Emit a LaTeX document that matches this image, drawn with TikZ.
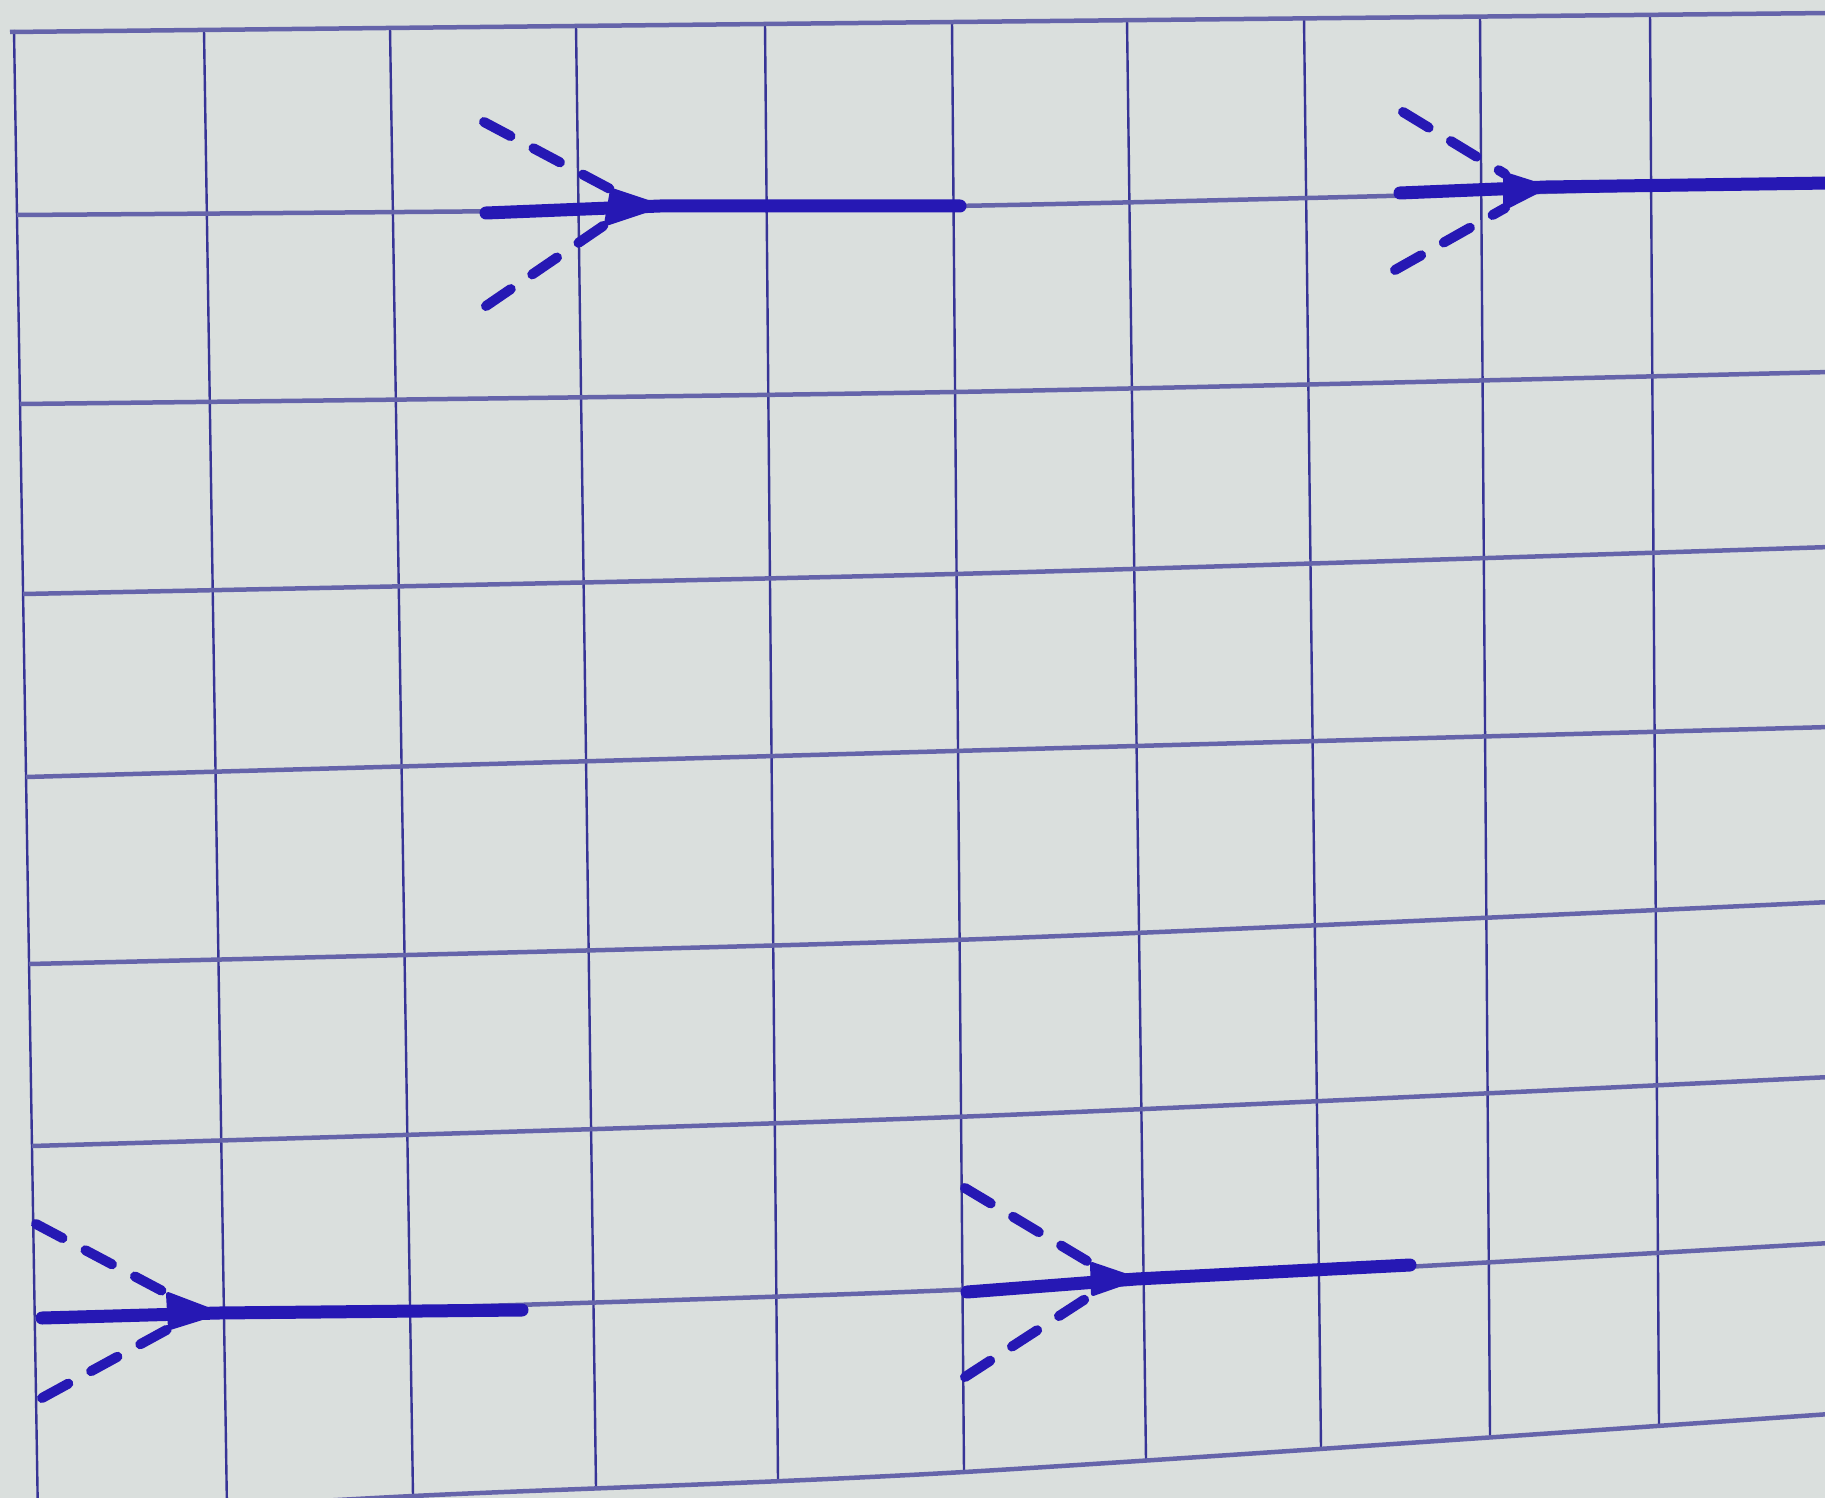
\documentclass[tikz,border=0pt]{standalone}
\usetikzlibrary{calc}
\definecolor{paper}{RGB}{218,223,221}
\definecolor{gridc}{RGB}{55,52,150}
\definecolor{ink}{RGB}{38,24,180}
\begin{document}
\begin{tikzpicture}[x=1pt,y=-1pt,
  vline/.style={gridc,line width=2.4pt},
  hline/.style={gridc!72!paper,line width=4.5pt},
  shaft/.style={ink,line width=13pt,line cap=round},
  rays/.style={ink,line width=10pt,line cap=round,dash pattern=on 30pt off 26pt},
  headfill/.style={fill=ink,draw=ink,line width=4pt,line join=round}]
\fill[paper] (0,0) rectangle (1825,1498);
\useasboundingbox (0,0) rectangle (1825,1498);
\begin{scope}
\clip (0,0) rectangle (1825,1498);
% vertical grid lines
\draw[vline] (14,30) -- (38,1520);
\draw[vline] (204,30) -- (227,1510);
\draw[vline] (390,28) -- (413,1496);
\draw[vline] (576,26) -- (596,1488);
\draw[vline] (765,24) -- (778,1480);
\draw[vline] (952,22) -- (964,1472);
\draw[vline] (1127,20) -- (1146,1460);
\draw[vline] (1304,18) -- (1321,1448);
\draw[vline] (1480,17) -- (1490,1437);
\draw[vline] (1650,15) -- (1659,1425);
% horizontal grid lines
\draw[hline] plot[smooth] coordinates {(10,32) (954,22) (1830,13)};
\draw[hline] plot[smooth] coordinates {(17,215) (954,206) (1830,184)};
\draw[hline] plot[smooth] coordinates {(20,404) (954,392) (1830,372)};
\draw[hline] plot[smooth] coordinates {(23,594) (954,574) (1830,547)};
\draw[hline] plot[smooth] coordinates {(26,777) (954,751) (1830,727)};
\draw[hline] plot[smooth] coordinates {(29,964) (954,940) (1830,902)};
\draw[hline] plot[smooth] coordinates {(32,1146) (954,1117) (1830,1077)};
\draw[hline] plot[smooth] coordinates {(35,1319) (954,1290) (1830,1243)};
\draw[hline] plot[smooth] coordinates {(0,1520) (413,1496) (964,1472) (1830,1414)};
\end{scope}
% figure A (top left)
\coordinate (aU) at (484,122); \coordinate (aB1) at (612,190);
\coordinate (aT) at (660,206); \coordinate (aB2) at (606,224);
\coordinate (aL) at (486,306); \coordinate (aS) at (486,213);
\coordinate (aE) at (960,206);
% figure B (top right)
\coordinate (bU) at (1403,112); \coordinate (bB1) at (1505,174);
\coordinate (bT) at (1546,187); \coordinate (bB2) at (1505,208);
\coordinate (bL) at (1395,270); \coordinate (bS) at (1400,193);
\coordinate (bE) at (1830,183);
% figure C (bottom left)
\coordinate (cU) at (36,1224); \coordinate (cB1) at (168,1294);
\coordinate (cT) at (218,1313); \coordinate (cB2) at (170,1328);
\coordinate (cL) at (42,1398); \coordinate (cS) at (42,1318);
\coordinate (cE) at (522,1310);
% figure D (bottom middle)
\coordinate (dU) at (965,1188); \coordinate (dB1) at (1092,1264);
\coordinate (dT) at (1136,1279); \coordinate (dB2) at (1093,1294);
\coordinate (dL) at (965,1377); \coordinate (dS) at (967,1292);
\coordinate (dE) at (1410,1265);
\foreach \f in {a,b,c,d}{
  \draw[rays] (\f U) -- (\f B1);
  \draw[rays] (\f L) -- (\f B2);
  \draw[shaft] (\f S) -- (\f T) -- (\f E);
  \filldraw[headfill] (\f T) -- (\f B1) -- (\f B2) -- cycle;
}
\end{tikzpicture}
\end{document}
